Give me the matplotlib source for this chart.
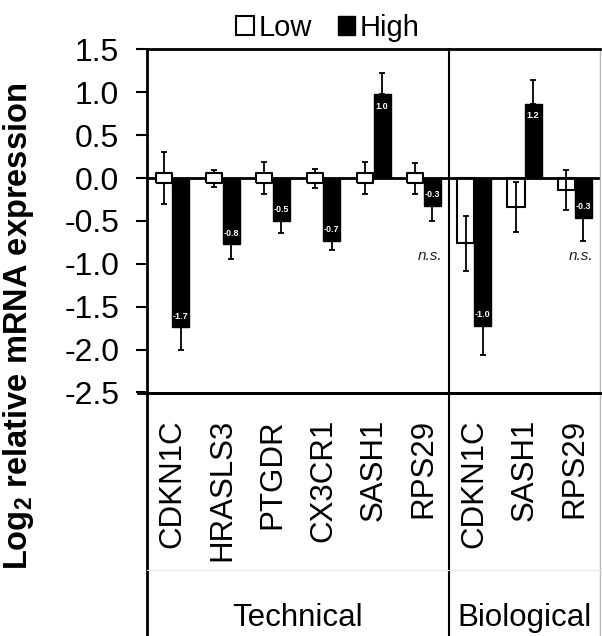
import matplotlib
matplotlib.use('Agg')
from matplotlib import pyplot as plt
from matplotlib.patches import Patch
from matplotlib.transforms import blended_transform_factory
import numpy as np

plt.rcParams['font.family'] = ['Liberation Sans', 'DejaVu Sans']
plt.rcParams['mathtext.fontset'] = 'custom'
plt.rcParams['mathtext.rm'] = 'Liberation Sans:bold'
plt.rcParams['mathtext.bf'] = 'Liberation Sans:bold'

genes = ['CDKN1C', 'HRASLS3', 'PTGDR', 'CX3CR1', 'SASH1', 'RPS29',
         'CDKN1C', 'SASH1', 'RPS29']
groups = ['Technical', 'Biological']
group_sizes = [6, 3]

low_vals = [0.0, 0.0, 0.0, 0.0, 0.0, 0.0, -0.76, -0.34, -0.14]
low_err = [0.30, 0.10, 0.19, 0.11, 0.19, 0.18, 0.32, 0.29, 0.23]
high_vals = [-1.74, -0.77, -0.50, -0.73, 0.98, -0.32, -1.72, 0.87, -0.46]
high_err = [0.26, 0.17, 0.14, 0.11, 0.25, 0.18, 0.34, 0.28, 0.27]
high_labels = ['-1.7', '-0.8', '-0.5', '-0.7', '1.0', '-0.3', '-1.0', '1.2', '-0.3']
ns_idx = [5, 8]
y_ticks = [1.5, 1.0, 0.5, 0.0, -0.5, -1.0, -1.5, -2.0, -2.5]

W, H = 602, 636
fig = plt.figure(figsize=(W / 100, H / 100), dpi=100)
ax_l, ax_r, ax_t, ax_b = 147, 600, 49.5, 392.5
ax = fig.add_axes([ax_l / W, 1 - ax_b / H, (ax_r - ax_l) / W, (ax_b - ax_t) / H])

x = np.arange(len(genes))
w = 0.34

ax.bar(x - w / 2, low_vals, w, color='white', edgecolor='black', linewidth=1.5, zorder=2)
ax.bar(x + w / 2, high_vals, w, color='black', edgecolor='black', linewidth=1.0, zorder=2)

# zero-valued Low bars are shown as a small open box on the zero line
lv = np.array(low_vals)
zero = np.abs(lv) < 0.05
box = [(-1.6, -1), (1.6, -1), (1.6, 1), (-1.6, 1), (-1.6, -1)]
ax.plot((x - w / 2)[zero], lv[zero], linestyle='none', marker=box, markersize=12,
        markerfacecolor='white', markeredgecolor='black', markeredgewidth=1.5, zorder=3.5)

ax.errorbar(x - w / 2, low_vals, yerr=low_err, fmt='none', ecolor='black',
            elinewidth=1.3, capsize=2.2, capthick=1.3, zorder=3)
hv = np.array(high_vals)
he = np.array(high_err)
lower = np.where(hv < 0, he, 0)
upper = np.where(hv > 0, he, 0)
ax.errorbar(x + w / 2, hv, yerr=[lower, upper], fmt='none', ecolor='black',
            elinewidth=1.3, capsize=2.2, capthick=1.3, zorder=3)

for i, (v, lab) in enumerate(zip(high_vals, high_labels)):
    off = 0.13 if v < 0 else -0.14
    ax.text(x[i] + w / 2, v + off, lab, color='white', fontsize=6.5,
            fontweight='bold', ha='center', va='center', zorder=4)

for i in ns_idx:
    ax.text(x[i] + w / 2 - 0.05, -0.91, 'n.s.', fontsize=11, style='italic',
            color='#222222', ha='center', va='center')

ax.axhline(0, color='black', lw=2, zorder=2.5)
ax.set_xlim(-0.5, len(genes) - 0.5)
ax.set_ylim(-2.5, 1.5)
ax.set_yticks(y_ticks)
ax.set_yticklabels([f'{t:.1f}' for t in y_ticks], fontsize=23)
ax.tick_params(axis='y', direction='out', length=8, width=1.5, pad=12)
ax.set_xticks([])

for s in ['left', 'top', 'bottom']:
    ax.spines[s].set_linewidth(2)
ax.spines['right'].set_color('#bbbbbb')
ax.spines['right'].set_linewidth(1)

# table below the plot
tr = ax.transAxes
yb = -(H - ax_b) / (ax_b - ax_t)
ax.plot([0, 0], [0, yb], color='black', lw=2, transform=tr, clip_on=False)
split = group_sizes[0] / len(genes)
ax.plot([split, split], [1, yb], color='black', lw=1.5, transform=tr, clip_on=False)
ax.plot([1, 1], [0, yb], color='#bbbbbb', lw=1, transform=tr, clip_on=False)
ax.plot([-9 / (ax_r - ax_l), 1], [0, 0], color='black', lw=2, transform=tr, clip_on=False)
yline = -(570 - ax_b) / (ax_b - ax_t)
ax.plot([0, 1], [yline, yline], color='#e8e8e8', lw=0.8, transform=tr, clip_on=False)

bt = blended_transform_factory(ax.transData, ax.transAxes)
y_gene = -(419 - ax_b) / (ax_b - ax_t)
for i, g in enumerate(genes):
    ax.text(x[i], y_gene, g, rotation=90, fontsize=22.5, ha='center', va='top',
            transform=bt)

y_grp = -(618 - ax_b) / (ax_b - ax_t)
start = 0
for g, n in zip(groups, group_sizes):
    ax.text(start + n / 2 - 0.5, y_grp, g, fontsize=22.5, ha='center', va='center',
            transform=bt)
    start += n

fig.text(19 / W, 1 - 326 / H, r'Log$_{\mathbf{2}}$ relative mRNA expression',
         rotation=90, fontsize=23.5, fontweight='bold', ha='center', va='center')

handles = [Patch(facecolor='white', edgecolor='black', linewidth=1.5, label='Low'),
           Patch(facecolor='black', edgecolor='black', label='High')]
fig.legend(handles=handles, loc='center', bbox_to_anchor=(328 / W, 1 - 28 / H),
           ncol=2, frameon=False, fontsize=21, handlelength=0.6, handleheight=0.6,
           handletextpad=0.15, columnspacing=0.9, borderpad=0)

fig.savefig('out.png', dpi=100)
